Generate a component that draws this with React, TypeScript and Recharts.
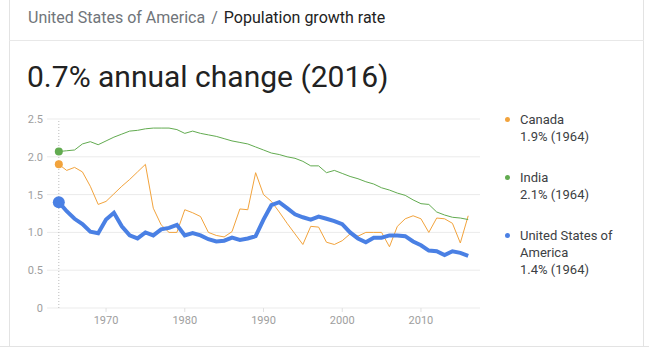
import { LineChart, Line, XAxis, YAxis, CartesianGrid, ReferenceLine } from "recharts";

const years = [
  1964, 1965, 1966, 1967, 1968, 1969, 1970, 1971, 1972, 1973, 1974, 1975, 1976, 1977,
  1978, 1979, 1980, 1981, 1982, 1983, 1984, 1985, 1986, 1987, 1988, 1989, 1990, 1991,
  1992, 1993, 1994, 1995, 1996, 1997, 1998, 1999, 2000, 2001, 2002, 2003, 2004, 2005,
  2006, 2007, 2008, 2009, 2010, 2011, 2012, 2013, 2014, 2015, 2016,
];

const canada = [
  1.9, 1.82, 1.86, 1.8, 1.61, 1.37, 1.41, 1.51, 1.61, 1.7, 1.8, 1.9, 1.32, 1.1,
  1.0, 1.0, 1.3, 1.26, 1.21, 1.0, 0.96, 0.94, 1.01, 1.31, 1.3, 1.79, 1.5, 1.41,
  1.27, 1.12, 0.98, 0.84, 1.08, 1.07, 0.87, 0.84, 0.89, 0.98, 0.95, 1.0, 1.0, 1.0,
  0.81, 1.08, 1.18, 1.22, 1.18, 1.0, 1.19, 1.18, 1.12, 0.86, 1.22,
];

const india = [
  2.07, 2.08, 2.09, 2.17, 2.2, 2.16, 2.21, 2.26, 2.3, 2.34, 2.35, 2.37, 2.38, 2.38,
  2.38, 2.36, 2.31, 2.34, 2.31, 2.29, 2.27, 2.24, 2.21, 2.19, 2.17, 2.13, 2.09, 2.05,
  2.03, 2.0, 1.98, 1.94, 1.88, 1.88, 1.79, 1.82, 1.78, 1.74, 1.71, 1.67, 1.64, 1.59,
  1.56, 1.52, 1.49, 1.43, 1.38, 1.37, 1.27, 1.23, 1.2, 1.19, 1.17,
];

const usa = [
  1.4, 1.28, 1.18, 1.11, 1.01, 0.99, 1.17, 1.26, 1.08, 0.96, 0.92, 1.0, 0.96, 1.04,
  1.06, 1.1, 0.96, 0.99, 0.96, 0.91, 0.88, 0.89, 0.93, 0.9, 0.92, 0.95, 1.17, 1.36,
  1.4, 1.32, 1.24, 1.2, 1.17, 1.21, 1.18, 1.15, 1.11, 1.0, 0.92, 0.87, 0.93, 0.93,
  0.96, 0.96, 0.95, 0.88, 0.83, 0.76, 0.75, 0.7, 0.75, 0.73, 0.69,
];

const xTicks = [1970, 1980, 1990, 2000, 2010];
const yTicks = [0, 0.5, 1, 1.5, 2, 2.5];

const series = [
  { key: "canada", name: "Canada", values: canada, color: "#f2a33c", width: 1, dotR: 4 },
  { key: "india", name: "India", values: india, color: "#62ab50", width: 1, dotR: 4 },
  { key: "usa", name: "United States of America", values: usa, color: "#4a80e4", width: 4, dotR: 6 },
];

const data = years.map((year, i) => ({
  year,
  canada: canada[i],
  india: india[i],
  usa: usa[i],
}));

const font = "Roboto, Arial, sans-serif";

const App = () => {
  return (
    <div
      style={{
        position: "absolute",
        left: 0,
        top: 0,
        width: 649,
        height: 358,
        background: "#fff",
        fontFamily: font,
        overflow: "hidden",
      }}
    >
      {/* card borders */}
      <div style={{ position: "absolute", left: 9, top: 0, width: 1, height: 346, background: "#e3e3e3" }} />
      <div style={{ position: "absolute", left: 643, top: 0, width: 1, height: 346, background: "#e3e3e3" }} />
      <div style={{ position: "absolute", left: 9, top: 40, width: 635, height: 1, background: "#e8e8e8" }} />
      <div style={{ position: "absolute", left: 0, top: 346, width: 649, height: 1, background: "#e3e3e3" }} />

      <div style={{ position: "absolute", left: 28, top: 8, fontSize: 16, whiteSpace: "nowrap" }}>
        <span style={{ color: "#70757a" }}>United States of America</span>
        <span style={{ color: "#70757a", margin: "0 6px" }}>/</span>
        <span style={{ color: "#222" }}>Population growth rate</span>
      </div>

      <div style={{ position: "absolute", left: 27, top: 59, fontSize: 30, color: "#222", whiteSpace: "nowrap" }}>
        0.7% annual change (2016)
      </div>

      <div style={{ position: "absolute", left: 0, top: 105 }}>
        <LineChart width={490} height={230} data={data} margin={{ top: 14, right: 10, bottom: 0, left: 0 }}>
          <CartesianGrid vertical={false} stroke="#ebebeb" />
          <XAxis
            dataKey="year"
            type="number"
            domain={[1962.5, 2017.5]}
            ticks={xTicks}
            height={27}
            axisLine={false}
            tickSize={4}
            tickMargin={4}
            tickLine={{ stroke: "#e0e0e0" }}
            tick={{ fill: "#9e9e9e", fontSize: 11, fontFamily: font }}
          />
          <YAxis
            type="number"
            domain={[0, 2.5]}
            ticks={yTicks}
            width={47}
            axisLine={false}
            tickLine={false}
            tickSize={0}
            tickMargin={4}
            tickFormatter={(v: number) => (v === 0 ? "0" : v.toFixed(1))}
            tick={{ fill: "#9e9e9e", fontSize: 11, fontFamily: font }}
          />
          <ReferenceLine x={1964} stroke="#bdbdbd" strokeDasharray="1 2" />
          {series.map((s) => (
            <Line
              key={s.key}
              dataKey={s.key}
              name={s.name}
              type="linear"
              stroke={s.color}
              strokeWidth={s.width}
              isAnimationActive={false}
              activeDot={false}
              dot={(props: any) =>
                props.index === 0 ? (
                  <circle key={`${s.key}-dot`} cx={props.cx} cy={props.cy} r={s.dotR} fill={s.color} />
                ) : (
                  <g key={`${s.key}-${props.index}`} />
                )
              }
            />
          ))}
        </LineChart>
      </div>

      <div style={{ position: "absolute", left: 520, top: 111, width: 118, fontSize: 13, lineHeight: "17px", color: "#3c4043" }}>
        {series.map((s) => (
          <div key={s.key} style={{ position: "relative", marginBottom: 24 }}>
            <span
              style={{
                position: "absolute",
                left: -15,
                top: 6,
                width: 5,
                height: 5,
                borderRadius: 3,
                background: s.color,
              }}
            />
            <div>{s.name}</div>
            <div>{`${s.values[0].toFixed(1)}% (${years[0]})`}</div>
          </div>
        ))}
      </div>
    </div>
  );
};

export default App;
